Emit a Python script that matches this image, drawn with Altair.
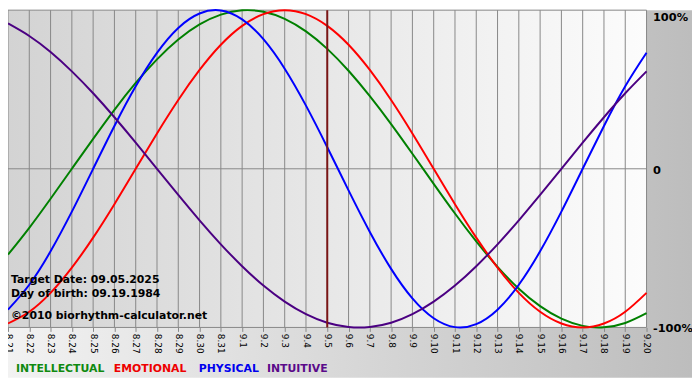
import altair as alt
import pandas as pd

# ---- data ----
days = ["8.21", "8.22", "8.23", "8.24", "8.25", "8.26", "8.27", "8.28", "8.29", "8.30", "8.31",
        "9.1", "9.2", "9.3", "9.4", "9.5", "9.6", "9.7", "9.8", "9.9", "9.10",
        "9.11", "9.12", "9.13", "9.14", "9.15", "9.16", "9.17", "9.18", "9.19", "9.20"]
intellectual = [-0.541, -0.372, -0.189, 0.0, 0.189, 0.372, 0.541, 0.690, 0.815, 0.910, 0.972, 0.999, 0.990,
                0.945, 0.866, 0.756, 0.618, 0.458, 0.282, 0.095, -0.095, -0.282, -0.458, -0.618, -0.756,
                -0.866, -0.945, -0.990, -0.999, -0.972, -0.910]
emotional = [-0.975, -0.901, -0.782, -0.623, -0.434, -0.223, 0.0, 0.223, 0.434, 0.623, 0.782, 0.901, 0.975,
             1.0, 0.975, 0.901, 0.782, 0.623, 0.434, 0.223, 0.0, -0.223, -0.434, -0.623, -0.782, -0.901,
             -0.975, -1.0, -0.975, -0.901, -0.782]
physical = [-0.888, -0.731, -0.520, -0.270, 0.0, 0.270, 0.520, 0.731, 0.888, 0.979, 0.998, 0.942, 0.817,
            0.631, 0.398, 0.136, -0.136, -0.398, -0.631, -0.817, -0.942, -0.998, -0.979, -0.888, -0.731,
            -0.520, -0.270, 0.0, 0.270, 0.520, 0.731]
intuitive = [0.916, 0.837, 0.736, 0.614, 0.476, 0.325, 0.165, 0.0, -0.165, -0.325, -0.476, -0.614, -0.736,
             -0.837, -0.916, -0.970, -0.997, -0.997, -0.970, -0.916, -0.837, -0.736, -0.614, -0.476, -0.325,
             -0.165, 0.0, 0.165, 0.325, 0.476, 0.614]
series_names = ["INTELLECTUAL", "EMOTIONAL", "PHYSICAL", "INTUITIVE"]
series_colors = ["#008000", "#ff0000", "#0000ff", "#4b0082"]
legend_colors = ["#108a10", "#ee0000", "#0000ee", "#5a0a8a"]
target_day = "9.5"
y_ticks = [-1, 0, 1]
info_lines = ["Target Date: 09.05.2025", "Day of birth: 09.19.1984", "\u00a92010 biorhythm-calculator.net"]

W, H = 646, 321
RIGHT, BOTTOM = 46, 51
FONT = "DejaVu Sans"

rows = []
for name, vals in zip(series_names, [intellectual, emotional, physical, intuitive]):
    for i, v in enumerate(vals):
        rows.append({"idx": i, "value": v, "series": name})
df = pd.DataFrame(rows)
grid_df = pd.DataFrame({"idx": list(range(len(days)))})
hgrid_df = pd.DataFrame({"value": y_ticks})
target_df = pd.DataFrame({"idx": [days.index(target_day)]})

label_arr = "[" + ",".join("'" + d + "'" for d in days) + "]"
x_axis = alt.Axis(values=list(range(len(days))), labelExpr=label_arr + "[datum.value]",
                  labelAngle=90, labelFont=FONT, labelFontSize=9, labelColor="#000000",
                  tickSize=4, tickColor="#888888", labelPadding=2, domain=False, grid=False,
                  title=None, zindex=1, labelOverlap=False, labelFlush=False)
y_axis = alt.Axis(values=y_ticks, orient="right",
                  labelExpr="datum.value == 1 ? '100%' : (datum.value == 0 ? '0' : '-100%')",
                  labelFont=FONT, labelFontWeight="bold", labelFontSize=11.5, labelColor="#000000",
                  labelPadding=6, ticks=False, domain=False, grid=False, title=None, zindex=1,
                  labelFlush=False, labelBaseline="middle",
                  labelOffset={"expr": "datum.value == 1 ? 7 : 1.5"})
x_scale = alt.Scale(domain=[0, len(days) - 1], nice=False, zero=False)
y_scale = alt.Scale(domain=[-1, 1], nice=False, zero=False)
X = alt.X("idx:Q", scale=x_scale, axis=x_axis)
Y = alt.Y("value:Q", scale=y_scale, axis=y_axis)

one = alt.Data(values=[{}])
outer_bg = alt.Chart(one).mark_rect(
    color=alt.Gradient(gradient="linear", x1=0, x2=1, y1=0, y2=0,
                       stops=[alt.GradientStop(offset=0, color="#f2f2f2"),
                              alt.GradientStop(offset=1, color="#bdbdbd")])
).encode(x=alt.value(0), x2=alt.value(W + RIGHT), y=alt.value(0), y2=alt.value(H + BOTTOM))
plot_bg = alt.Chart(one).mark_rect(
    color=alt.Gradient(gradient="linear", x1=0, x2=1, y1=0, y2=0,
                       stops=[alt.GradientStop(offset=0, color="#d3d3d3"),
                              alt.GradientStop(offset=1, color="#fcfcfc")])
).encode(x=alt.value(0), x2=alt.value(W), y=alt.value(0), y2=alt.value(H))

vgrid = alt.Chart(grid_df).mark_rule(color="#888888", strokeWidth=1).encode(x=X)
hgrid = alt.Chart(hgrid_df).mark_rule(color="#888888", strokeWidth=1).encode(y=Y)

lines = alt.Chart(df).mark_line(strokeWidth=2, interpolate="natural").encode(
    x=X, y=Y,
    color=alt.Color("series:N", scale=alt.Scale(domain=series_names, range=series_colors), legend=None),
    order=alt.Order("idx:Q"),
    detail="series:N",
)
target = alt.Chart(target_df).mark_rule(color="#7a1515", strokeWidth=2).encode(x=X)

layers = [outer_bg, plot_bg, vgrid, hgrid, lines, target]

info_y = [276, 290, 312]
for t, yy in zip(info_lines, info_y):
    layers.append(alt.Chart(one).mark_text(text=t, font=FONT, fontWeight="bold", fontSize=11,
                                           align="left", baseline="alphabetic", color="#000000")
                  .encode(x=alt.value(3), y=alt.value(yy)))

legend_x = [8, 107, 193, 262]
for name, col, lx in zip(series_names, legend_colors, legend_x):
    layers.append(alt.Chart(one).mark_text(text=name, font=FONT, fontWeight="bold", fontSize=11,
                                           align="left", baseline="alphabetic", color=col)
                  .encode(x=alt.value(lx), y=alt.value(366)))

chart = alt.layer(*layers).properties(
    width=W, height=H,
    autosize=alt.AutoSizeParams(type="none"),
    padding={"left": 0, "top": 0, "right": RIGHT, "bottom": BOTTOM},
).configure_view(strokeWidth=0)

chart.save("out.html", embed_options={"renderer": "svg", "actions": False})
